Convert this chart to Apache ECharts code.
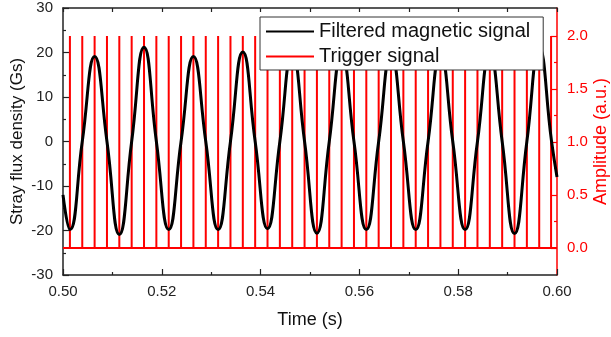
<!DOCTYPE html>
<html>
<head>
<meta charset="utf-8">
<script src="https://cdn.jsdelivr.net/npm/echarts@6/dist/echarts.min.js"></script>
<style>
  html, body { margin: 0; padding: 0; background: #fff; }
  #chart { width: 611px; height: 337px; }
</style>
</head>
<body>
<div id="chart"></div>
<script>
// filtered magnetic signal: key points (time s, flux Gs)
const magTimes = [0.5000, 0.5014, 0.5039, 0.5064, 0.5089, 0.5114, 0.5139, 0.5164, 0.5189, 0.5214,
  0.5239, 0.5264, 0.5289, 0.5314, 0.5339, 0.5364, 0.5389, 0.5414, 0.5439, 0.5464,
  0.5489, 0.5514, 0.5539, 0.5564, 0.5589, 0.5614, 0.5639, 0.5664, 0.5689, 0.5714,
  0.5739, 0.5764, 0.5789, 0.5814, 0.5839, 0.5864, 0.5889, 0.5914, 0.5939, 0.5964,
  0.5989, 0.6000];
const magValues = [-12, -19.8, 0, 19.1, 0, -20.9, 0, 21.2, 0, -19.8,
  0, 19.1, 0, -19.8, 0, 20.1, 0, -19.6, 0, 20.2,
  0, -20.6, 0, 20, 0, -19.8, 0, 20, 0, -19.8,
  0, 20, 0, -19.8, 0, 20, 0, -20.7, 0, 21,
  0, -8];

// trigger pulses (time s), amplitude in a.u.
const pulseTimes = [0.5014, 0.5039, 0.5064, 0.5089, 0.5114, 0.5139, 0.5164, 0.5189, 0.5214, 0.5239,
  0.5264, 0.5289, 0.5314, 0.5339, 0.5364, 0.5389, 0.5414, 0.5439, 0.5464, 0.5489,
  0.5514, 0.5539, 0.5564, 0.5589, 0.5614, 0.5639, 0.5664, 0.5689, 0.5714, 0.5739,
  0.5764, 0.5789, 0.5814, 0.5839, 0.5864, 0.5889, 0.5914, 0.5939, 0.5964, 0.5988];
const pulseHigh = 2.0;
const pulseLow = 0.0;

const ampLabels = [0, 0.5, 1.0, 1.5, 2.0];
const ampMinor = [0.25, 0.75, 1.25, 1.75];

const FONT = '"Liberation Sans", Arial, sans-serif';
const RED = '#ff0000';

const magData = magTimes.map((t, i) => [t, magValues[i]]);
const trigData = [[0.5, pulseLow]];
pulseTimes.forEach(t => {
  trigData.push([t, pulseLow], [t, pulseHigh], [t, pulseLow]);
});
trigData.push([0.6, pulseLow]);

const chart = echarts.init(document.getElementById('chart'));

const option = {
  animation: false,
  backgroundColor: '#fff',
  grid: { left: 63, right: 54, top: 8, bottom: 62, outerBoundsMode: 'none', containLabel: false },
  legend: {
    left: 260,
    top: 17,
    orient: 'vertical',
    backgroundColor: '#fff',
    borderColor: '#333',
    borderWidth: 1,
    padding: [3, 13, 2, 5],
    itemWidth: 48,
    itemHeight: 14,
    itemGap: 2,
    itemStyle: { color: 'rgba(0,0,0,0)', borderColor: 'rgba(0,0,0,0)', borderWidth: 0 },
    textStyle: { fontFamily: FONT, fontSize: 20, color: '#111', lineHeight: 23 },
    data: ['Filtered magnetic signal', 'Trigger signal']
  },
  xAxis: [
    {
      type: 'value',
      min: 0.5,
      max: 0.6,
      interval: 0.02,
      position: 'bottom',
      axisLine: { onZero: false, lineStyle: { color: '#222', width: 1.5 } },
      axisTick: { inside: true, length: 6, lineStyle: { color: '#222', width: 1.2 } },
      minorTick: { show: true, splitNumber: 2, length: 3, lineStyle: { color: '#222', width: 1.2 } },
      splitLine: { show: false },
      axisLabel: {
        fontFamily: FONT, fontSize: 15, color: '#222', margin: 9,
        formatter: v => v.toFixed(2)
      },
      name: 'Time (s)',
      nameLocation: 'middle',
      nameGap: 36,
      nameMoveOverlap: false,
      nameTextStyle: { fontFamily: FONT, fontSize: 18, color: '#111' }
    },
    {
      type: 'value',
      min: 0.5,
      max: 0.6,
      interval: 0.01,
      position: 'top',
      axisLine: { onZero: false, lineStyle: { color: '#222', width: 1.5 } },
      axisTick: { inside: true, length: 4, lineStyle: { color: '#222', width: 1.2 } },
      axisLabel: { show: false },
      splitLine: { show: false }
    }
  ],
  yAxis: [
    {
      type: 'value',
      min: -30,
      max: 30,
      interval: 10,
      position: 'left',
      axisLine: { show: true, onZero: false, lineStyle: { color: '#222', width: 1.5 } },
      axisTick: { show: true, inside: true, length: 6, lineStyle: { color: '#222', width: 1.2 } },
      minorTick: { show: true, splitNumber: 2, length: 3, lineStyle: { color: '#222', width: 1.2 } },
      splitLine: { show: false },
      axisLabel: { fontFamily: FONT, fontSize: 15, color: '#222', margin: 10 },
      name: 'Stray flux density (Gs)',
      nameLocation: 'middle',
      nameRotate: 90,
      nameGap: 37,
      nameMoveOverlap: false,
      nameTextStyle: { fontFamily: FONT, fontSize: 17, color: '#111' }
    },
    {
      type: 'value',
      min: -0.255,
      max: 2.264,
      position: 'right',
      axisLine: { show: true, onZero: false, lineStyle: { color: RED, width: 1.5 } },
      axisTick: { show: true, inside: true, length: 6, customValues: ampLabels, lineStyle: { color: RED, width: 1.2 } },
      splitLine: { show: false },
      axisLabel: {
        fontFamily: FONT, fontSize: 15, color: RED, margin: 10,
        customValues: ampLabels,
        formatter: v => v.toFixed(1)
      },
      name: 'Amplitude (a.u.)',
      nameLocation: 'middle',
      nameRotate: 90,
      nameGap: 35,
      nameMoveOverlap: false,
      nameTextStyle: { fontFamily: FONT, fontSize: 18, color: RED }
    },
    {
      // minor ticks of the amplitude axis
      type: 'value',
      min: -0.255,
      max: 2.264,
      position: 'right',
      axisLine: { show: false },
      axisTick: { show: true, inside: true, length: 3, customValues: ampMinor, lineStyle: { color: RED, width: 1.2 } },
      axisLabel: { show: false },
      splitLine: { show: false }
    }
  ],
  series: [
    {
      name: 'Trigger signal',
      type: 'line',
      yAxisIndex: 1,
      symbol: 'none',
      lineStyle: { color: RED, width: 2 },
      itemStyle: { color: RED },
      data: trigData,
      z: 2
    },
    {
      name: 'Filtered magnetic signal',
      type: 'line',
      yAxisIndex: 0,
      symbol: 'none',
      smooth: 0.5,
      lineStyle: { color: '#000', width: 3 },
      itemStyle: { color: '#000' },
      data: magData,
      z: 3
    }
  ]
};

chart.setOption(option);
</script>
</body>
</html>
